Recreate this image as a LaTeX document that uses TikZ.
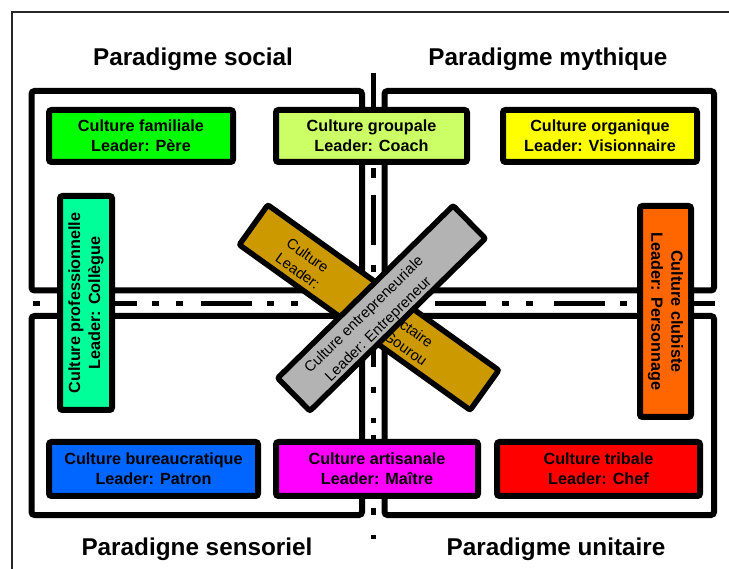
\documentclass[tikz,border=0pt]{standalone}
\usepackage{fontspec}
\setmainfont{Liberation Sans}
\newcommand\boxfnt{\bfseries\fontsize{16.2}{20}\selectfont}
\newcommand\titlefnt{\bfseries\fontsize{24.3}{28}\selectfont}
\newcommand\rotfnt{\fontsize{14.8}{20.5}\selectfont}
\definecolor{cfam}{HTML}{00FF00}
\definecolor{cgrp}{HTML}{CCFF66}
\definecolor{corg}{HTML}{FFFF00}
\definecolor{cpro}{HTML}{00FF99}
\definecolor{cclu}{HTML}{FF6600}
\definecolor{cbur}{HTML}{0066FF}
\definecolor{cart}{HTML}{FF00FF}
\definecolor{ctri}{HTML}{FF0000}
\definecolor{cgold}{HTML}{CC9900}
\definecolor{cgray}{HTML}{B3B3B3}
\tikzset{
  quad/.style={draw=black, line width=6pt, rounded corners=3pt},
  cbox/.style={draw=black, line width=6pt, rounded corners=2.5pt, inner sep=0pt,
    align=center, font=\boxfnt, text=black},
  xbox/.style={draw=black, line width=5.5pt, rounded corners=2pt, inner sep=0pt},
  ttl/.style={font=\titlefnt, anchor=base, inner sep=0pt, text=black},
  rtxt/.style={font=\rotfnt, inner sep=0pt, text=black},
  roadmark/.style={fill=black}
}
\begin{document}
\begin{tikzpicture}[x=1pt,y=-1pt]
\useasboundingbox (0,0) rectangle (729,569);
\clip (0,0) rectangle (729,569);
\fill[white] (0,0) rectangle (729,569);
\draw[line width=1.5pt, black!85] (12,12) rectangle (760,600);

% quadrants
\draw[quad] (31.5,91) rectangle (362,290.5);
\draw[quad] (384.5,91) rectangle (714,290.5);
\draw[quad] (31.5,316) rectangle (362,515);
\draw[quad] (384.5,316) rectangle (714,515);

% road centre markings
\foreach \a/\b in {33/40,86/137,152/159,176/183,201/252,267/274,291/298,320/371,386/393,410/417,435/486,502/509,526/533,554/605,620/627,644/651,673/715}
  \fill[roadmark] (\a,301) rectangle (\b,306);
\foreach \a/\b in {73/110,168/178,195/245,265/272,290/297,318/367,387/393,418/423,435/445,508/515,535/539}
  \fill[roadmark] (370.7,\a) rectangle (376,\b);

% titles
\node[ttl] (ps) at (193,66) {Paradigme social};
\node[ttl] (pm) at (548,66) {Paradigme mythique};
\node[ttl] (pse) at (197,555) {Paradigne sensoriel};
\node[ttl] (pu) at (556,555) {Paradigme unitaire};

% culture boxes
\node[cbox, fill=cfam, minimum width=184pt, minimum height=52pt] (fam) at (141,136) {Culture familiale\\Leader: Père};
\node[cbox, fill=cgrp, minimum width=191pt, minimum height=52pt] (grp) at (371.5,136) {Culture groupale\\Leader: Coach};
\node[cbox, fill=corg, minimum width=194pt, minimum height=52pt] (org) at (600,136) {Culture organique\\Leader: Visionnaire};
\node[cbox, fill=cpro, minimum width=214pt, minimum height=52pt, rotate=90] (pro) at (86,303) {Culture professionnelle\\Leader: Collègue};
\node[cbox, fill=cclu, minimum width=211pt, minimum height=51pt, rotate=-90] (clu) at (665.5,311.5) {Culture clubiste\\Leader: Personnage};
\node[cbox, fill=cbur, minimum width=209pt, minimum height=54pt] (bur) at (153.5,469) {Culture bureaucratique\\Leader: Patron};
\node[cbox, fill=cart, minimum width=202pt, minimum height=54pt] (art) at (377,469) {Culture artisanale\\Leader: Maître};
\node[cbox, fill=ctri, minimum width=203pt, minimum height=54pt] (tri) at (598.5,469) {Culture tribale\\Leader: Chef};

% crossing boxes
\node[xbox, fill=cgold, minimum width=284pt, minimum height=49pt, rotate=-35.6] (sec) at (369,307.5) {};
\node[rtxt, anchor=base, rotate=-35.6] (secw1) at (304.8,259.7) {Culture};
\node[rtxt, anchor=base, rotate=-35.6] (secw2) at (407.3,333.1) {sectaire};
\node[rtxt, anchor=base, rotate=-35.6] (secw3) at (294.9,275.3) {Leader:};
\node[rtxt, anchor=base, rotate=-35.6] (secw4) at (402.4,352.4) {Gourou};
\node[xbox, fill=cgray, minimum width=246pt, minimum height=46pt, rotate=44.5] (ent) at (381.5,308.3) {};
\node[rtxt, align=center, rotate=44.5] (enttxt) at (371.6,322.4) {Culture entrepreneuriale\\Leader: Entrepreneur};
\end{tikzpicture}
\end{document}
